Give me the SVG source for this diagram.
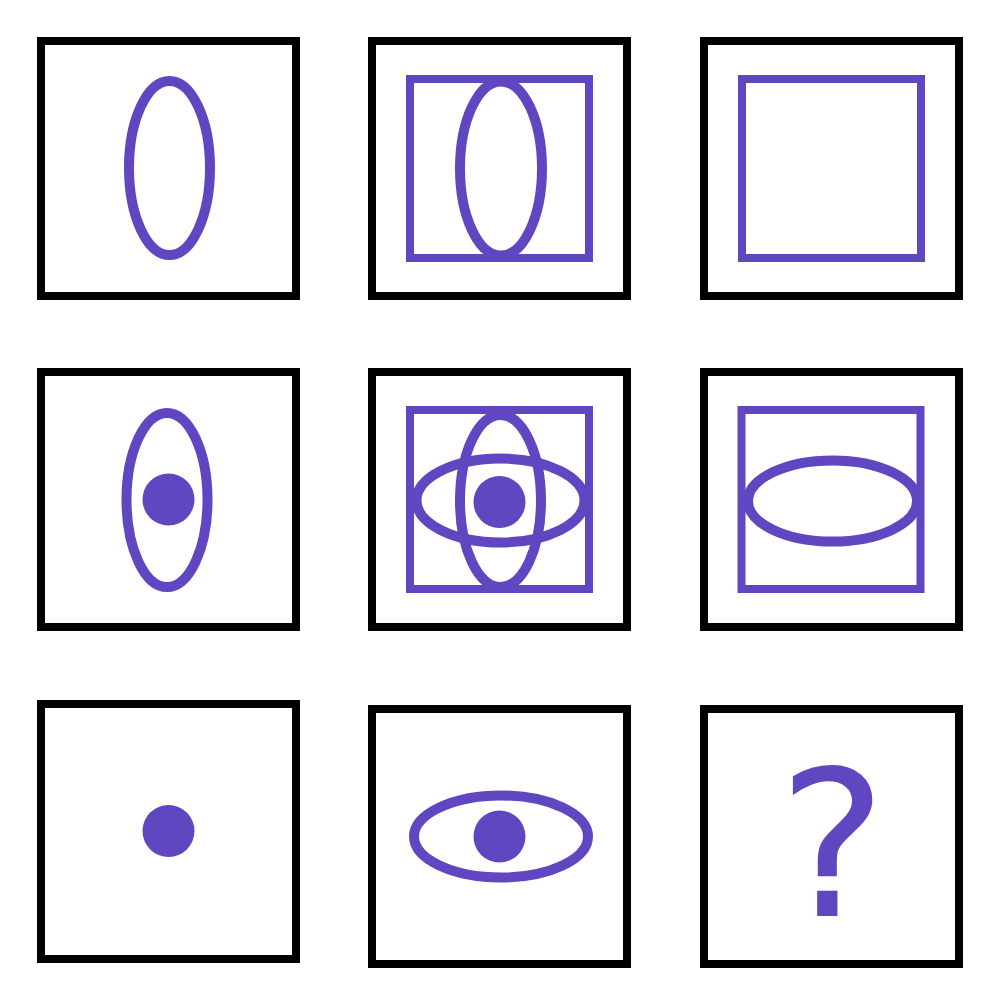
<svg xmlns="http://www.w3.org/2000/svg" width="1001" height="1001" viewBox="0 0 1001 1001">
<style>
.frame{fill:#fff;stroke:#000;stroke-width:8}
.box{fill:none;stroke:#6146C1;stroke-width:8}
.ell{fill:none;stroke:#6146C1;stroke-width:10}
.dot{fill:#6146C1}
.q{fill:#6146C1;font-family:"DejaVu Sans",sans-serif;font-size:204px}
</style>
<rect width="1001" height="1001" fill="#fff"/>
<g id="cell-r1c1">
<rect class="frame" x="41" y="41" width="255" height="255"/>
<ellipse class="ell" cx="169.5" cy="168" rx="40.5" ry="87"/>
</g>
<g id="cell-r1c2">
<rect class="frame" x="372" y="41" width="255" height="255"/>
<rect class="box" x="410" y="79" width="179" height="179"/>
<ellipse class="ell" cx="501" cy="168.5" rx="41" ry="87"/>
</g>
<g id="cell-r1c3">
<rect class="frame" x="704" y="41" width="255" height="255"/>
<rect class="box" x="742" y="79" width="179" height="179"/>
</g>
<g id="cell-r2c1">
<rect class="frame" x="41" y="372" width="255" height="255"/>
<ellipse class="ell" cx="167" cy="500" rx="40.5" ry="87"/>
<circle class="dot" cx="168.5" cy="499.5" r="26"/>
</g>
<g id="cell-r2c2">
<rect class="frame" x="372" y="372" width="255" height="255"/>
<rect class="box" x="410" y="410" width="179" height="179"/>
<ellipse class="ell" cx="500.5" cy="500.5" rx="84" ry="42"/>
<ellipse class="ell" cx="500.5" cy="501" rx="40.5" ry="86"/>
<circle class="dot" cx="499.5" cy="502" r="26"/>
</g>
<g id="cell-r2c3">
<rect class="frame" x="704" y="372" width="255" height="255"/>
<rect class="box" x="741.5" y="410" width="179" height="179"/>
<ellipse class="ell" cx="832.5" cy="501" rx="84.5" ry="40.5"/>
</g>
<g id="cell-r3c1">
<rect class="frame" x="41" y="704" width="255" height="255"/>
<circle class="dot" cx="168.5" cy="831" r="26"/>
</g>
<g id="cell-r3c2">
<rect class="frame" x="372" y="709" width="255" height="255"/>
<ellipse class="ell" cx="501" cy="836.5" rx="87" ry="41"/>
<circle class="dot" cx="499.5" cy="836.5" r="26"/>
</g>
<g id="cell-r3c3">
<rect class="frame" x="704" y="709" width="255" height="255"/>
<text class="q" x="832.5" y="916" text-anchor="middle">?</text>
</g>
<g id="connectors"/>
</svg>
